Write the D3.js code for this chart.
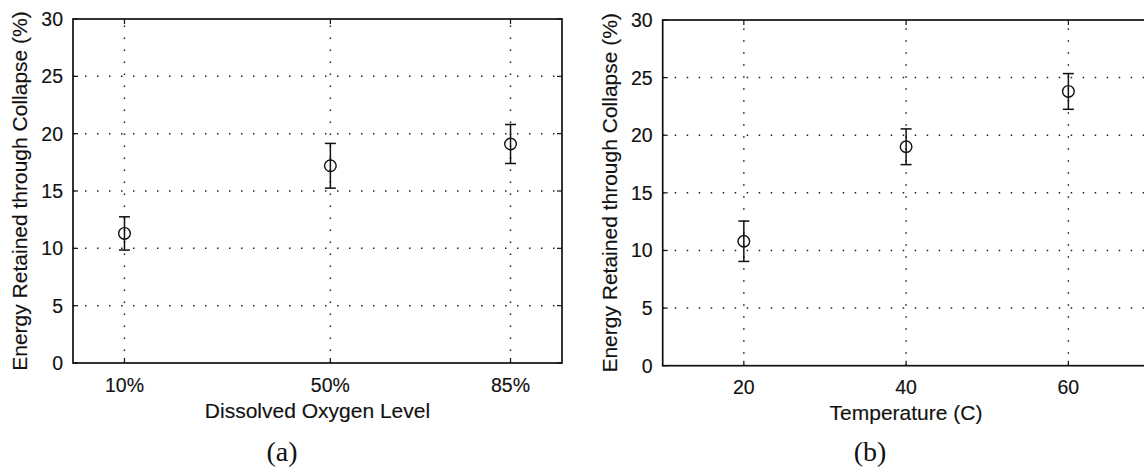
<!DOCTYPE html>
<html>
<head>
<meta charset="utf-8">
<script src="https://cdn.jsdelivr.net/npm/d3@7"></script>
<style>
  html, body { margin: 0; padding: 0; background: #fff; }
  svg { display: block; }
</style>
</head>
<body>
<script>
// Energy retained through bubble collapse: mean ± error for two sweeps.
const yTicks = [0, 5, 10, 15, 20, 25, 30];

// (a) dissolved oxygen sweep
const oxygenLevels = [10, 50, 85];
const oxygenLabels = ["10%", "50%", "85%"];
const oxygenMeans = [11.3, 17.2, 19.1];
const oxygenErrors = [1.45, 1.95, 1.7];

// (b) temperature sweep
const temperatures = [20, 40, 60];
const temperatureLabels = ["20", "40", "60"];
const temperatureMeans = [10.8, 19.0, 23.8];
const temperatureErrors = [1.75, 1.55, 1.55];

const yTitle = "Energy Retained through Collapse (%)";

const W = 1144, H = 473;
const svg = d3.select("body").append("svg").attr("width", W).attr("height", H);

const sans = "'Liberation Sans', Arial, Helvetica, sans-serif";
const serif = "'Liberation Serif', 'Times New Roman', serif";
const ink = "#111";

function label(sel) {
  return sel.attr("fill", ink).attr("stroke", ink).attr("stroke-width", 0.15);
}

function drawPanel(p) {
  const x = d3.scaleLinear().domain(p.xDomain).range(p.xRange);
  const y = d3.scaleLinear().domain([0, 30]).range(p.yRange);
  const [x0, x1] = p.xRange;
  const [yb, yt] = p.yRange;
  const g = svg.append("g");

  // dotted grid
  g.selectAll(".hgrid").data(yTicks.filter(t => t > 0 && t < 30)).join("line")
    .attr("x1", x0).attr("x2", x1)
    .attr("y1", d => y(d)).attr("y2", d => y(d))
    .attr("stroke", "#222").attr("stroke-width", 1.5)
    .attr("stroke-dasharray", "1.5 10.5");
  g.selectAll(".vgrid").data(p.xValues).join("line")
    .attr("x1", d => x(d)).attr("x2", d => x(d))
    .attr("y1", yb).attr("y2", yt)
    .attr("stroke", "#222").attr("stroke-width", 1.5)
    .attr("stroke-dasharray", "1.5 10.5");

  // inward ticks on all four sides
  const tl = 5;
  g.selectAll(".ytl").data(yTicks).join("line")
    .attr("x1", x0).attr("x2", x0 + tl)
    .attr("y1", d => y(d)).attr("y2", d => y(d))
    .attr("stroke", ink).attr("stroke-width", 1.2);
  g.selectAll(".ytr").data(yTicks).join("line")
    .attr("x1", x1).attr("x2", x1 - tl)
    .attr("y1", d => y(d)).attr("y2", d => y(d))
    .attr("stroke", ink).attr("stroke-width", 1.2);
  g.selectAll(".xtb").data(p.xValues).join("line")
    .attr("x1", d => x(d)).attr("x2", d => x(d))
    .attr("y1", yb).attr("y2", yb - tl)
    .attr("stroke", ink).attr("stroke-width", 1.2);
  g.selectAll(".xtt").data(p.xValues).join("line")
    .attr("x1", d => x(d)).attr("x2", d => x(d))
    .attr("y1", yt).attr("y2", yt + tl)
    .attr("stroke", ink).attr("stroke-width", 1.2);

  // frame
  g.append("rect")
    .attr("x", x0).attr("y", yt)
    .attr("width", x1 - x0).attr("height", yb - yt)
    .attr("fill", "none").attr("stroke", ink).attr("stroke-width", 1.7);

  // y tick labels
  g.selectAll(".ylab").data(yTicks).join("text")
    .attr("x", x0 - 10).attr("y", d => y(d))
    .attr("dy", "0.36em")
    .attr("text-anchor", "end")
    .attr("font-family", sans).attr("font-size", 19.5)
    .call(label)
    .text(d => d);

  // x tick labels
  g.selectAll(".xlab").data(p.xValues).join("text")
    .attr("x", d => x(d)).attr("y", yb + 28.5)
    .attr("text-anchor", "middle")
    .attr("font-family", sans).attr("font-size", 19.5)
    .call(label)
    .text((d, i) => p.xLabels[i]);

  // axis titles
  g.append("text")
    .attr("x", p.xTitleX).attr("y", yb + 54.5)
    .attr("text-anchor", "middle")
    .attr("font-family", sans).attr("font-size", 21)
    .call(label)
    .text(p.xTitle);
  g.append("text")
    .attr("transform", `translate(${p.yTitleX},${(yb + yt) / 2}) rotate(-90)`)
    .attr("text-anchor", "middle")
    .attr("dominant-baseline", "central")
    .attr("font-family", sans).attr("font-size", 21)
    .call(label)
    .text(yTitle);

  // error bars with caps and open circle markers
  const pts = p.xValues.map((v, i) => ({ x: v, m: p.means[i], e: p.errors[i] }));
  const cap = 5.5;
  const bars = g.selectAll(".eb").data(pts).join("g");
  bars.append("line")
    .attr("x1", d => x(d.x)).attr("x2", d => x(d.x))
    .attr("y1", d => y(d.m - d.e)).attr("y2", d => y(d.m + d.e))
    .attr("stroke", ink).attr("stroke-width", 1.5);
  bars.append("line")
    .attr("x1", d => x(d.x) - cap).attr("x2", d => x(d.x) + cap)
    .attr("y1", d => y(d.m + d.e)).attr("y2", d => y(d.m + d.e))
    .attr("stroke", ink).attr("stroke-width", 1.5);
  bars.append("line")
    .attr("x1", d => x(d.x) - cap).attr("x2", d => x(d.x) + cap)
    .attr("y1", d => y(d.m - d.e)).attr("y2", d => y(d.m - d.e))
    .attr("stroke", ink).attr("stroke-width", 1.5);
  bars.append("circle")
    .attr("cx", d => x(d.x)).attr("cy", d => y(d.m))
    .attr("r", 5.8)
    .attr("fill", "none").attr("stroke", ink).attr("stroke-width", 1.4);

  // sub-figure caption
  svg.append("text")
    .attr("x", p.captionX).attr("y", 461)
    .attr("text-anchor", "middle")
    .attr("font-family", serif).attr("font-size", 28).attr("fill", ink)
    .text(p.caption);
}

drawPanel({
  xDomain: [0, 95], xRange: [73, 562], yRange: [363, 19],
  xValues: oxygenLevels, xLabels: oxygenLabels,
  means: oxygenMeans, errors: oxygenErrors,
  xTitle: "Dissolved Oxygen Level", xTitleX: 317.5,
  yTitleX: 19, caption: "(a)", captionX: 282
});

drawPanel({
  xDomain: [10, 70], xRange: [662.7, 1149.5], yRange: [365.7, 20],
  xValues: temperatures, xLabels: temperatureLabels,
  means: temperatureMeans, errors: temperatureErrors,
  xTitle: "Temperature (C)", xTitleX: 906,
  yTitleX: 609, caption: "(b)", captionX: 870
});
</script>
</body>
</html>
